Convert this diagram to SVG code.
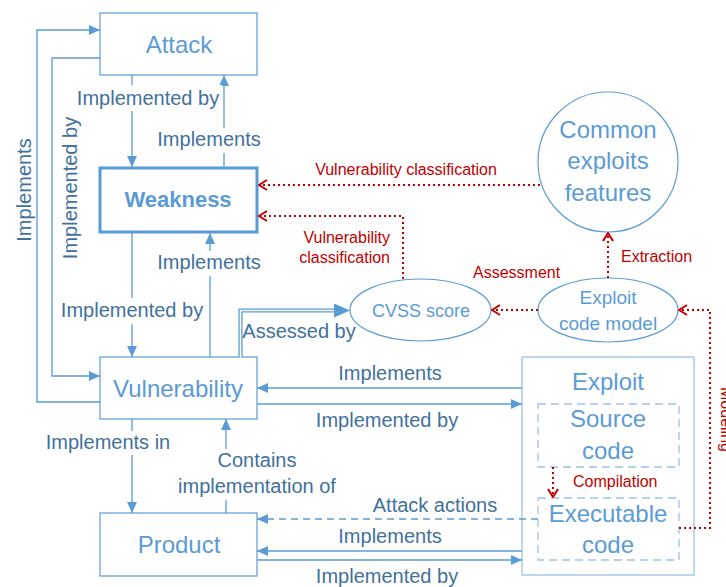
<svg xmlns="http://www.w3.org/2000/svg" width="726" height="587" viewBox="0 0 726 587">
  <style>
    .box { fill: #FFFFFF; stroke: #5B9BD5; stroke-width: 1.2; }
    .lite { fill: #FFFFFF; stroke: #9DC3E6; stroke-width: 1.3; }
    .dbox { fill: none; stroke: #9DC3E6; stroke-width: 1.3; stroke-dasharray: 8 5; }
    .node { font-family: "Liberation Sans", Arial, sans-serif; fill: #5B9BD5; text-anchor: middle; }
    .lbl { font-family: "Liberation Sans", Arial, sans-serif; font-size: 20px; fill: #41719C; text-anchor: middle; }
    .red { font-family: "Liberation Sans", Arial, sans-serif; font-size: 16px; fill: #C00000; }
    .edge { fill: none; stroke: #5B9BD5; stroke-width: 1.3; marker-end: url(#tri); }
    .dash { stroke-dasharray: 7 5; }
    .dot { fill: none; stroke: #C00000; stroke-width: 2; stroke-dasharray: 2 3; marker-end: url(#vee); }
    .bg { fill: #FFFFFF; }
  </style>
  <defs>
    <marker id="tri" viewBox="0 0 11 10" refX="11" refY="5" markerWidth="11" markerHeight="10" markerUnits="userSpaceOnUse" orient="auto">
      <path d="M0,0 L11,5 L0,10 z" fill="#5B9BD5"/>
    </marker>
    <marker id="vee" viewBox="0 0 10 12" refX="9" refY="6" markerWidth="10" markerHeight="12" markerUnits="userSpaceOnUse" orient="auto">
      <path d="M1,1 L9,6 L1,11" fill="none" stroke="#C00000" stroke-width="2"/>
    </marker>
  </defs>

  <rect width="726" height="587" fill="#FFFFFF"/>

  <!-- nodes -->
  <g id="attack">
    <rect class="box" x="100" y="13" width="157" height="62"/>
    <text class="node" x="179" y="53" font-size="24">Attack</text>
  </g>
  <g id="weakness">
    <rect x="100" y="168" width="157" height="64" fill="#FFFFFF" stroke="#5B9BD5" stroke-width="3"/>
    <text class="node" x="178" y="207" font-size="22" font-weight="bold">Weakness</text>
  </g>
  <g id="vulnerability">
    <rect class="box" x="100" y="357" width="157" height="62"/>
    <text class="node" x="178" y="397" font-size="24">Vulnerability</text>
  </g>
  <g id="product">
    <rect class="box" x="100" y="513" width="157" height="63"/>
    <text class="node" x="179" y="553" font-size="24">Product</text>
  </g>
  <g id="exploit">
    <rect class="lite" x="522" y="357" width="172" height="218"/>
    <text class="node" x="608" y="390" font-size="24">Exploit</text>
  </g>
  <g id="source-code">
    <rect class="dbox" x="538" y="404" width="141" height="63"/>
    <text class="node" x="608" y="427" font-size="24">Source</text>
    <text class="node" x="608" y="459" font-size="24">code</text>
  </g>
  <g id="executable-code">
    <rect class="dbox" x="538" y="498" width="141" height="62"/>
    <text class="node" x="608" y="522" font-size="24">Executable</text>
    <text class="node" x="608" y="553" font-size="24">code</text>
  </g>
  <g id="common-exploits-features">
    <circle cx="608" cy="162" r="70" fill="#FFFFFF" stroke="#5B9BD5" stroke-width="1.2"/>
    <text class="node" x="608" y="138" font-size="24">Common</text>
    <text class="node" x="608" y="169" font-size="24">exploits</text>
    <text class="node" x="608" y="201" font-size="24">features</text>
  </g>
  <g id="cvss-score">
    <ellipse cx="420.5" cy="310" rx="70.5" ry="31" fill="#FFFFFF" stroke="#5B9BD5" stroke-width="1.2"/>
    <text class="node" x="421" y="317" font-size="18">CVSS score</text>
  </g>
  <g id="exploit-code-model">
    <ellipse cx="608" cy="310" rx="70" ry="32" fill="#FFFFFF" stroke="#5B9BD5" stroke-width="1.2"/>
    <text class="node" x="608" y="304" font-size="19">Exploit</text>
    <text class="node" x="608" y="330" font-size="19">code model</text>
  </g>

  <!-- connectors -->
  <g id="connectors">
    <path class="edge" d="M132,75 V167"/>
    <path class="edge" d="M224,167 V75"/>
    <path class="edge" d="M132,233 V357"/>
    <path class="edge" d="M210,357 V233"/>
    <path class="edge" d="M100,402 H37 V30 H100"/>
    <path class="edge" d="M100,58 H52 V376 H100"/>
    <!-- double line: Assessed by -->
    <path d="M240.5,357 V310.5 H336" fill="none" stroke="#5B9BD5" stroke-width="4.2"/>
    <path d="M240.5,358 V310.5 H337" fill="none" stroke="#FFFFFF" stroke-width="1.6"/>
    <path d="M334,303.5 L350,310.5 L334,317.5 z" fill="#5B9BD5"/>
    <path class="edge" d="M522,388 H257"/>
    <path class="edge" d="M257,404 H522"/>
    <path class="edge" d="M132,419 V513"/>
    <path class="edge" d="M226,513 V419"/>
    <path class="edge dash" d="M538,519 H257"/>
    <path class="edge" d="M522,551 H257"/>
    <path class="edge" d="M257,560 H522"/>
    <!-- dotted red relations -->
    <path class="dot" d="M540,185 H259"/>
    <path class="dot" d="M403,279 V216 H259"/>
    <path class="dot" d="M538,310 H492"/>
    <path class="dot" d="M608,278 V233"/>
    <path class="dot" d="M679,528 H710 V310 H679"/>
    <path class="dot" d="M553,467 V497"/>
  </g>

  <!-- connector labels -->
  <g id="labels">
    <rect class="bg" x="72" y="85" width="150" height="26"/>
    <text class="lbl" x="148" y="105">Implemented by</text>
    <rect class="bg" x="156" y="128" width="107" height="25"/>
    <text class="lbl" x="209" y="146">Implements</text>
    <rect class="bg" x="156" y="251" width="107" height="25"/>
    <text class="lbl" x="209" y="269">Implements</text>
    <rect class="bg" x="57" y="298" width="150" height="26"/>
    <text class="lbl" x="132" y="317">Implemented by</text>
    <text class="lbl" x="299" y="338">Assessed by</text>
    <text class="lbl" x="390" y="380">Implements</text>
    <text class="lbl" x="387" y="427">Implemented by</text>
    <rect class="bg" x="42" y="431" width="131" height="24"/>
    <text class="lbl" x="108" y="449">Implements in</text>
    <rect class="bg" x="172" y="449" width="171" height="51"/>
    <text class="lbl" x="257" y="467">Contains</text>
    <text class="lbl" x="257" y="493">implementation of</text>
    <text class="lbl" x="435" y="512">Attack actions</text>
    <text class="lbl" x="390" y="543">Implements</text>
    <text class="lbl" x="387" y="583">Implemented by</text>
    <text class="lbl" transform="translate(31,190) rotate(-90)">Implements</text>
    <text class="lbl" transform="translate(77,188) rotate(-90)">Implemented by</text>
    <text class="red" x="406" y="175" text-anchor="middle">Vulnerability classification</text>
    <text class="red" x="390" y="243" text-anchor="end">Vulnerability</text>
    <text class="red" x="390" y="263" text-anchor="end">classification</text>
    <text class="red" x="473" y="278">Assessment</text>
    <text class="red" x="621" y="262">Extraction</text>
    <text class="red" x="573" y="487">Compilation</text>
    <text class="red" transform="translate(721,387) rotate(90)">Modeling</text>
  </g>
</svg>
